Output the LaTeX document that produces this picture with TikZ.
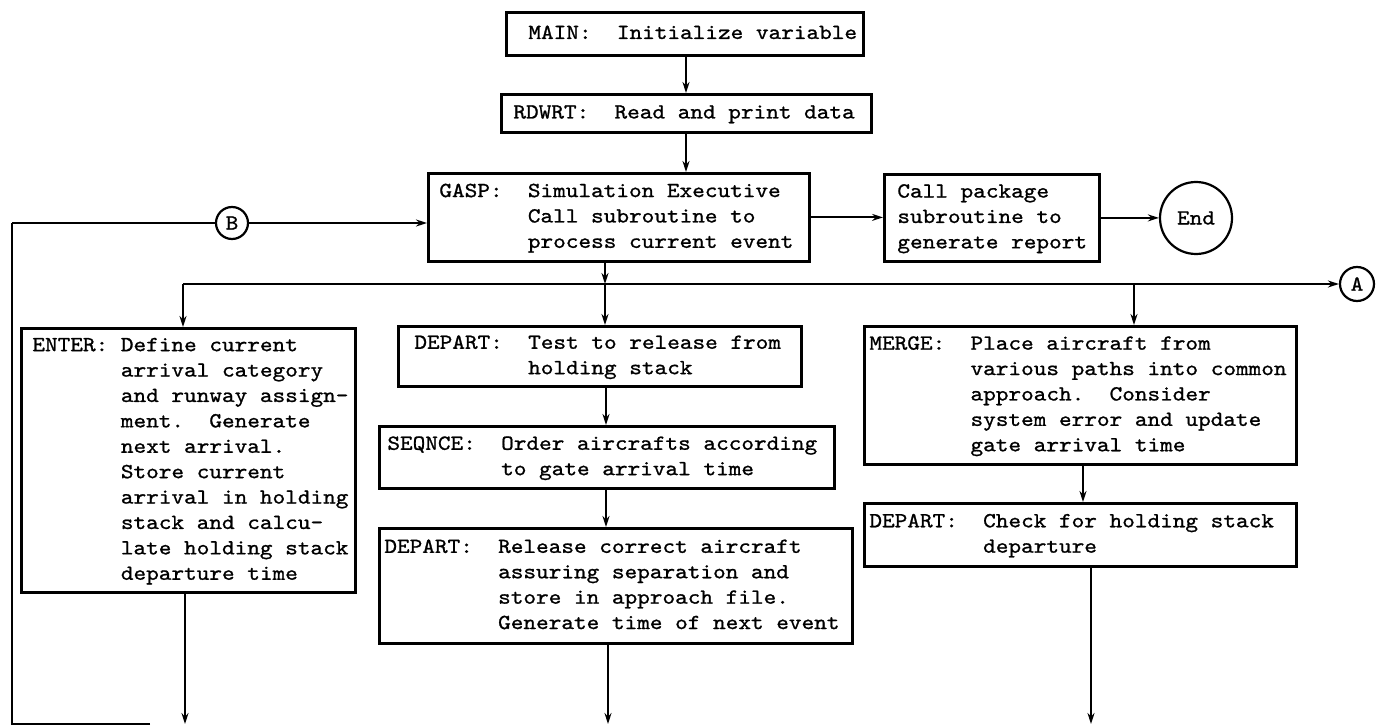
\documentclass[tikz,border=0pt]{standalone}
\usepackage{fontspec}
\usetikzlibrary{arrows.meta}
\newfontfamily\tw{lmmono10-regular.otf}[FakeStretch=1.12,FakeBold=1]
\newcommand\ind[1]{\hspace*{\dimexpr#1\fontcharwd\font`M\relax}}
\newcommand\bxt[3]{\makebox[#2pt][l]{\hspace*{#1pt}\begin{tabular}{@{}l@{}}#3\end{tabular}}}
\tikzset{
  typew/.style={font={\tw\fontsize{21.5}{25.4}\selectfont\frenchspacing}},
  box/.style={draw, line width=2.8pt, inner sep=0pt, anchor=north west, typew},
  circ/.style={draw, circle, line width=2.2pt, inner sep=0pt, typew},
  conn/.style={line width=1.8pt},
  thinconn/.style={line width=1.3pt},
  arr/.style={conn, -{Stealth[length=11pt,width=7pt]}},
  thinarr/.style={thinconn, -{Stealth[length=11pt,width=7pt]}}
}
\begin{document}
\begin{tikzpicture}[x=1pt,y=-1pt]
\useasboundingbox (0,0) rectangle (1376,727);
% boxes
\node[box, minimum width=357pt, minimum height=43pt] (main) at (505,11)
  {\bxt{22}{357}{MAIN:\ind{2}Initialize variable}};
\node[box, minimum width=370pt, minimum height=38pt] (rdwrt) at (500,93)
  {\bxt{12}{370}{RDWRT:\ind{2}Read and print data}};
\node[box, minimum width=381pt, minimum height=88pt] (gasp) at (427,172)
  {\bxt{11}{381}{GASP:\ind{2}Simulation Executive\\ \ind{7}Call subroutine to\\ \ind{7}process current event}};
\node[box, minimum width=215pt, minimum height=87pt] (call) at (883,173)
  {\bxt{13}{215}{Call package\\subroutine to\\generate report}};
\node[box, minimum width=334pt, minimum height=264pt] (enter) at (20,327)
  {\bxt{11}{334}{ENTER:\ind{1}Define current\\
   \ind{7}arrival category\\
   \ind{7}and runway assign-\\
   \ind{7}ment.\ind{2}Generate\\
   \ind{7}next arrival.\\
   \ind{7}Store current\\
   \ind{7}arrival in holding\\
   \ind{7}stack and calcu-\\
   \ind{7}late holding stack\\
   \ind{7}departure time}};
\node[box, minimum width=403pt, minimum height=60pt] (dep1) at (397,325)
  {\bxt{16}{403}{DEPART:\ind{2}Test to release from\\ \ind{9}holding stack}};
\node[box, minimum width=455pt, minimum height=62pt] (seq) at (378,425)
  {\bxt{8}{455}{SEQNCE:\ind{2}Order aircrafts according\\ \ind{9}to gate arrival time}};
\node[box, minimum width=473pt, minimum height=115pt] (dep2) at (378,527)
  {\bxt{5}{473}{DEPART:\ind{2}Release correct aircraft\\
   \ind{9}assuring separation and\\
   \ind{9}store in approach file.\\
   \ind{9}Generate time of next event}};
\node[box, minimum width=432pt, minimum height=138pt] (merge) at (863,325)
  {\bxt{5}{432}{MERGE:\ind{2}Place aircraft from\\
   \ind{8}various paths into common\\
   \ind{8}approach.\ind{2}Consider\\
   \ind{8}system error and update\\
   \ind{8}gate arrival time}};
\node[box, minimum width=432pt, minimum height=63pt] (dep3) at (863,502)
  {\bxt{5}{432}{DEPART:\ind{2}Check for holding stack\\ \ind{9}departure}};
% circles
\node[circ, minimum size=72pt] (end) at (1196,218) {End};
\node[circ, minimum size=32pt] (B) at (232,223) {B};
\node[circ, minimum size=34pt] (A) at (1357,284) {A};
% coordinates
\coordinate (xT) at (686,0);
\coordinate (xM) at (606,0);
\coordinate (xR) at (1083,0);
\coordinate (jL) at (183,284);
\coordinate (jM) at (605,284);
\coordinate (jR) at (1134,284);
\coordinate (lb) at (12,724);
\coordinate (lt) at (12,223);
\coordinate (lbe) at (150,724);
\coordinate (bL) at (185,724);
\coordinate (bM) at (608,724);
\coordinate (bR) at (1091,724);
% connectors
\draw[arr] (main.south -| xT) -- (rdwrt.north -| xT);
\draw[arr] (rdwrt.south -| xT) -- (gasp.north -| xT);
\draw[arr] (gasp.east) -- (call.west |- gasp.east);
\draw[arr] (call.east) -- (end.west |- call.east);
\draw[thinconn] (lbe) -- (lb) -- (lt);
\draw[conn] (lt) -- (B);
\draw[arr] (B) -- (gasp.west |- B);
\draw[arr] (gasp.south -| jM) -- (jM);
\draw[arr] (jL) -- (A);
\draw[arr] (jL) -- (enter.north -| jL);
\draw[arr] (jM) -- (dep1.north -| jM);
\draw[arr] (jR) -- (merge.north -| jR);
\draw[arr] (dep1.south -| xM) -- (seq.north -| xM);
\draw[arr] (seq.south -| xM) -- (dep2.north -| xM);
\draw[thinarr] (enter.south -| bL) -- (bL);
\draw[thinarr] (dep2.south -| bM) -- (bM);
\draw[arr] (merge.south -| xR) -- (dep3.north -| xR);
\draw[arr] (dep3.south -| bR) -- (bR);
\end{tikzpicture}
\end{document}
